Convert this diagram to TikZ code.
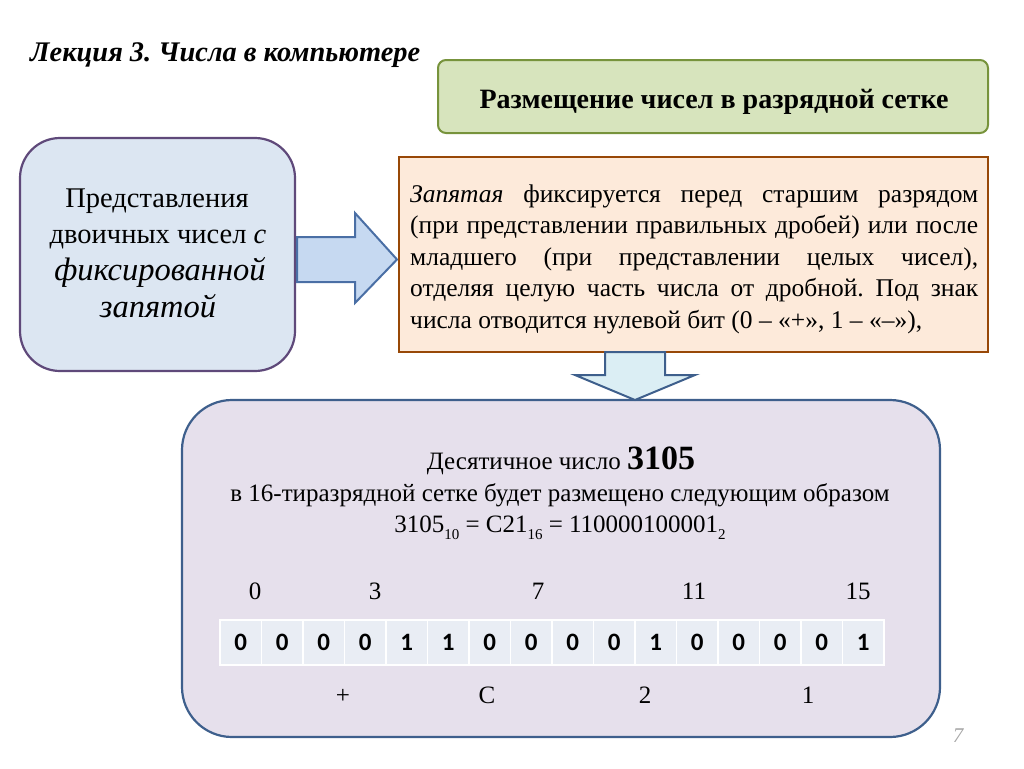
\documentclass[tikz,border=0pt]{standalone}
\usepackage{fontspec}
\setmainfont{Liberation Serif}
\newfontfamily\cellfont{Carlito}
\frenchspacing
\newcommand{\lowsub}[1]{\raisebox{-0.28em}{\fontsize{15}{15}\selectfont #1}}
\definecolor{greenfill}{HTML}{D7E4BD}
\definecolor{greenline}{HTML}{77933C}
\definecolor{bluefill}{HTML}{DCE6F2}
\definecolor{purpleline}{HTML}{5F497A}
\definecolor{arrowfill}{HTML}{C6D9F1}
\definecolor{arrowline}{HTML}{4A6FA5}
\definecolor{orangefill}{HTML}{FDEADA}
\definecolor{orangeline}{HTML}{984807}
\definecolor{downfill}{HTML}{DBEEF4}
\definecolor{lavfill}{HTML}{E6E0EC}
\definecolor{lavline}{HTML}{3E5F8C}
\definecolor{cellfill}{HTML}{E9EDF4}
\definecolor{pagegray}{HTML}{A6A6A6}
\tikzset{
  cellbox/.style={draw=white, line width=1.5pt, fill=cellfill, minimum width=41.5pt, minimum height=45pt, inner sep=0pt, font=\cellfont\bfseries\fontsize{25}{27}\selectfont},
  numlbl/.style={anchor=base, inner sep=0pt, font=\fontsize{25}{28}\selectfont},
  leftline/.style={anchor=base, inner sep=0pt, font=\fontsize{28.5}{32}\selectfont},
  leftital/.style={anchor=base, inner sep=0pt, font=\itshape\fontsize{32.5}{36}\selectfont},
  oline/.style={anchor=base west, inner sep=0pt, font=\fontsize{25.5}{30}\selectfont},
  bline/.style={anchor=base, inner sep=0pt, font=\fontsize{25}{30}\selectfont},
}
\begin{document}
\begin{tikzpicture}[x=1pt,y=-1pt]
\useasboundingbox (0,0) rectangle (1024,768);
% title
\node[anchor=base west, inner sep=0pt, font=\bfseries\itshape\fontsize{28.4}{32}\selectfont] (title) at (30,62) {Лекция 3. Числа в компьютере};
% green header box
\draw[greenline, fill=greenfill, line width=2pt, rounded corners=8pt] (438,60) rectangle (988,133);
\node[anchor=base, inner sep=0pt, font=\bfseries\fontsize{28}{32}\selectfont] (hdr) at (714,108) {Размещение чисел в разрядной сетке};
% left box
\draw[purpleline, fill=bluefill, line width=2.2pt, rounded corners=40pt] (20,138) rectangle (295,371);
\node[leftline] (l1) at (157,207) {Представления};
\node[leftline] (l2) at (158,243) {двоичных чисел \textit{с}};
\node[leftital] (l3) at (160,280) {фиксированной};
\node[leftital] (l4) at (158,317) {запятой};
% right block arrow
\draw[arrowline, fill=arrowfill, line width=2pt, line join=miter]
  (297,237) -- (355,237) -- (355,213) -- (397,259.5) -- (355,303) -- (355,282) -- (297,282) -- cycle;
% orange box
\draw[orangeline, fill=orangefill, line width=2.2pt] (399,157) rectangle (988,352);
\node[oline] (t1) at (410,202) {\makebox[568pt][s]{\textit{Запятая} фиксируется перед старшим разрядом}};
\node[oline] (t2) at (410,233.5) {\makebox[568pt][s]{(при представлении правильных дробей) или после}};
\node[oline] (t3) at (410,265) {\makebox[568pt][s]{младшего (при представлении целых чисел),}};
\node[oline] (t4) at (410,296.5) {\makebox[568pt][s]{отделяя целую часть числа от дробной. Под знак}};
\node[oline] (t5) at (410,328) {числа отводится нулевой бит (0 – «+», 1 – «–»),};
% bottom box
\draw[lavline, fill=lavfill, line width=2.2pt, rounded corners=50pt] (182,400) rectangle (940,737);
% down block arrow
\draw[lavline, fill=downfill, line width=2pt, line join=miter]
  (605,352) -- (665,352) -- (665,375) -- (695,375) -- (635,400) -- (575,375) -- (605,375) -- cycle;
\node[bline] (d1) at (561,469) {Десятичное число {\bfseries\fontsize{34}{36}\selectfont 3105}};
\node[bline] (d2) at (560,501) {в 16-тиразрядной сетке будет размещено следующим образом};
\node[bline] (d3) at (560,532) {3105\lowsub{10} = C21\lowsub{16} = 110000100001\lowsub{2}};
% bit numbers
\node[numlbl] (n0) at (255,599) {0};
\node[numlbl] (n3) at (375,599) {3};
\node[numlbl] (n7) at (538,599) {7};
\node[numlbl] (n11) at (694,599) {11};
\node[numlbl] (n15) at (858,599) {15};
% cells
\foreach \b [count=\i from 0] in {0,0,0,0,1,1,0,0,0,0,1,0,0,0,0,1} {
  \node[cellbox] (c\i) at ({220+41.5*\i+20.75},642.5) {\b};
}
% hex labels
\node[numlbl] (hp) at (343,703) {+};
\node[numlbl] (hc) at (487,703) {C};
\node[numlbl] (h2) at (645,703) {2};
\node[numlbl] (h1) at (808,703) {1};
% page number
\node[anchor=base, inner sep=0pt, font=\itshape\fontsize{21}{24}\selectfont, text=pagegray] (pg) at (958,742) {7};
\end{tikzpicture}
\end{document}
